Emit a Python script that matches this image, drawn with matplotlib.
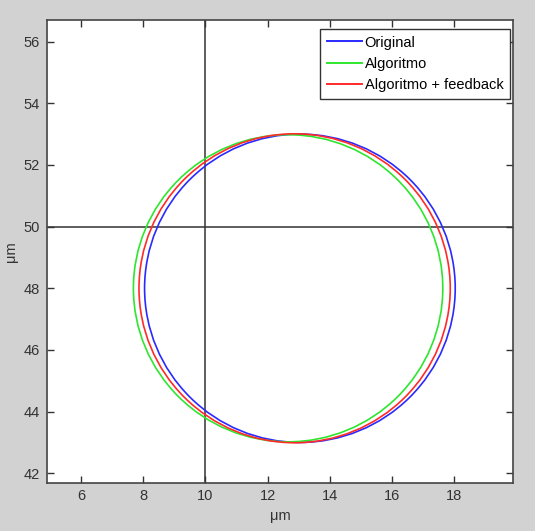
import numpy as np
import matplotlib
matplotlib.use("Agg")
from matplotlib import pyplot as plt
from matplotlib.patches import Circle
from matplotlib.lines import Line2D

plt.rcParams['font.family'] = ['Liberation Sans', 'DejaVu Sans']

# fitted circles (um)
series = ["Original", "Algoritmo", "Algoritmo + feedback"]
colors = ["#2a2aff", "#2ee62e", "#ff2a2a"]
center_x = [13.04, 12.66, 12.87]
center_y = [48.0, 48.0, 48.0]
radius = [5.0, 4.98, 5.01]

# reference cross
cross_x = 10
cross_y = 50

xticks = [6, 8, 10, 12, 14, 16, 18]
yticks = [42, 44, 46, 48, 50, 52, 54, 56]

fig = plt.figure(figsize=(5.35, 5.31), dpi=100, facecolor="#d2d2d2")
ax = fig.add_axes([0.0879, 0.0913, 0.871, 0.871])

ax.axvline(cross_x, color="#333333", lw=1.1, zorder=1)
ax.axhline(cross_y, color="#333333", lw=1.1, zorder=1)

handles = []
for name, c, cx, cy, r in zip(series, colors, center_x, center_y, radius):
    ax.add_patch(Circle((cx, cy), r, fill=False, edgecolor=c, lw=1.2, zorder=2))
    handles.append(Line2D([], [], color=c, lw=1.4, label=name))

ax.set_xlim(4.9, 19.9)
ax.set_ylim(41.7, 56.7)
ax.set_xticks(xticks)
ax.set_yticks(yticks)
ax.tick_params(direction="in", top=True, right=True, length=5, width=1,
               labelsize=10.5, colors="#333333", pad=5)
for s in ax.spines.values():
    s.set_color("#444444")
    s.set_linewidth(1.2)

ax.set_xlabel("μm", fontsize=10.5, color="#333333", labelpad=4)
ax.set_ylabel("μm", fontsize=10.5, color="#333333", labelpad=4)

leg = ax.legend(handles=handles, loc="upper right", bbox_to_anchor=(0.9936, 0.9805),
                fontsize=10.5, handlelength=2.4, handletextpad=0.2, borderpad=0.45,
                labelspacing=0.5, fancybox=False, framealpha=1, borderaxespad=0)
leg.get_frame().set_edgecolor("#333333")
leg.get_frame().set_linewidth(1.0)

fig.savefig("out.png", dpi=100, facecolor=fig.get_facecolor())
